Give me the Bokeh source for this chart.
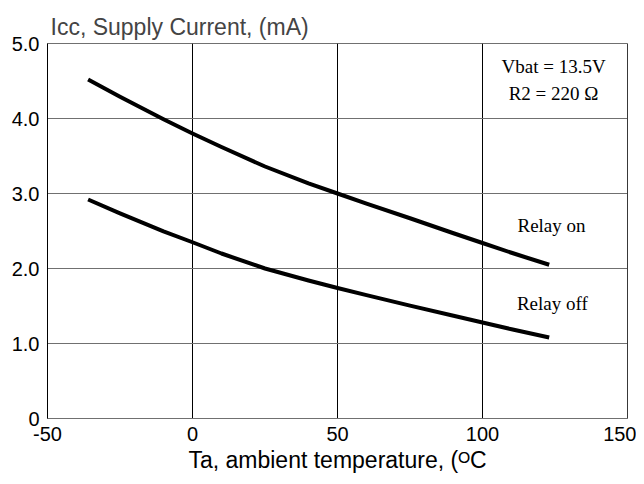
from bokeh.plotting import figure
from bokeh.models import Label, FixedTicker, Span
from bokeh.embed import file_html
from bokeh.resources import INLINE

# Data
temps = [-36, -25, -10, 0, 10, 25, 40, 50, 60, 75, 90, 100, 110, 123]
relay_on = [4.52, 4.29, 3.99, 3.80, 3.62, 3.36, 3.135, 3.00, 2.865, 2.67, 2.47, 2.34, 2.21, 2.05]
relay_off = [2.92, 2.735, 2.495, 2.35, 2.20, 2.00, 1.84, 1.74, 1.645, 1.505, 1.37, 1.28, 1.19, 1.08]

x_ticks = [-50, 0, 50, 100, 150]
x_tick_labels = ["-50", "0", "50", "100", "150"]
y_ticks = [0, 1, 2, 3, 4, 5]
y_tick_labels = ["0", "1.0", "2.0", "3.0", "4.0", "5.0"]

title_text = "Icc, Supply Current, (mA)"
x_label = "Ta, ambient temperature, (\u1d3cC"
cond_lines = ["Vbat = 13.5V", "R2 = 220 \u03a9"]
series_names = ["Relay on", "Relay off"]

SANS = "Liberation Sans"
SERIF = "Liberation Serif"

p = figure(width=636, height=478, x_range=(-50, 150), y_range=(0, 5),
           output_backend="svg", toolbar_location=None,
           min_border_left=47, min_border_right=9, min_border_top=43,
           min_border_bottom=60)

p.title.text = title_text
p.title.text_font = SANS
p.title.text_font_size = "23px"
p.title.text_font_style = "normal"
p.title.align = "left"
p.title.offset = 3
p.title.standoff = 8

p.outline_line_color = "#707070"
p.outline_line_width = 1

p.xaxis.ticker = FixedTicker(ticks=x_ticks)
p.yaxis.ticker = FixedTicker(ticks=y_ticks)
p.xaxis.major_label_overrides = {t: l for t, l in zip(x_ticks, x_tick_labels)}
p.yaxis.major_label_overrides = {t: l for t, l in zip(y_ticks, y_tick_labels)}

for ax in (p.xaxis, p.yaxis):
    ax.major_tick_out = 0
    ax.major_tick_in = 0
    ax.minor_tick_out = 0
    ax.minor_tick_in = 0
    ax.major_label_text_font = SANS
    ax.major_label_text_font_size = "20px"
    ax.major_label_text_color = "black"

p.xaxis.major_label_standoff = 8
p.yaxis.major_label_standoff = 8
p.yaxis.axis_line_color = "black"
p.xaxis.axis_line_color = "#707070"

p.xaxis.axis_label = x_label
p.xaxis.axis_label_text_font = SANS
p.xaxis.axis_label_text_font_size = "23px"
p.xaxis.axis_label_text_font_style = "normal"
p.xaxis.axis_label_text_color = "black"
p.xaxis.axis_label_standoff = 3

p.xgrid.grid_line_color = "black"
p.xgrid.grid_line_width = 1
p.ygrid.grid_line_color = "#707070"
p.ygrid.grid_line_width = 1

p.add_layout(Span(location=150, dimension="height", line_color="black", line_width=1))

p.line(temps, relay_on, line_color="black", line_width=4, line_join="round")
p.line(temps, relay_off, line_color="black", line_width=4, line_join="round")

for txt, yy in zip(cond_lines, [4.69, 4.33]):
    p.add_layout(Label(x=124.5, y=yy, text=txt, text_align="center",
                       text_baseline="middle", text_font=SERIF,
                       text_font_size="19px", text_color="black"))

for txt, xx, yy in zip(series_names, [123.8, 124.1], [2.57, 1.53]):
    p.add_layout(Label(x=xx, y=yy, text=txt, text_align="center",
                       text_baseline="middle", text_font=SERIF,
                       text_font_size="19px", text_color="black"))

open("out.html", "w").write(file_html(p, INLINE))
